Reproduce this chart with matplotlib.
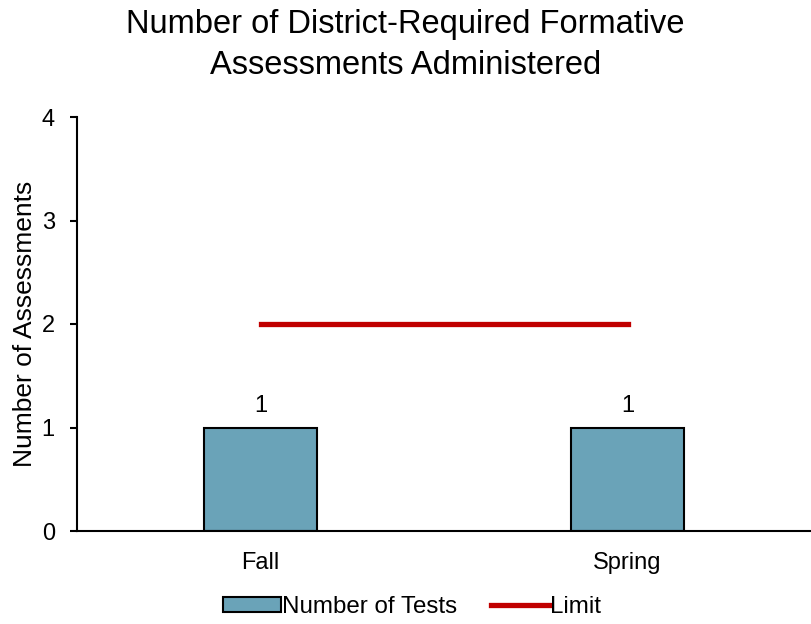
import matplotlib.pyplot as plt

plt.rcParams['font.family'] = ['Liberation Sans', 'DejaVu Sans']

seasons = ['Fall', 'Spring']
num_tests = [1, 1]
limit = [2, 2]

fig = plt.figure(figsize=(8.11, 6.24), dpi=100)
ax = fig.add_axes([77 / 811, 1 - 531 / 624, 734 / 811, 414 / 624])

x = range(len(seasons))
bars = ax.bar(x, num_tests, width=0.31, color='#6aa3b8', edgecolor='black',
              linewidth=1.5, label='Number of Tests', zorder=2)
line, = ax.plot(x, limit, color='#c00000', linewidth=3.8, label='Limit', zorder=3)

for xi, v in zip(x, num_tests):
    ax.text(xi, v + 0.1, str(v), ha='center', va='bottom', fontsize=17)

ax.set_xlim(-0.5, 1.5)
ax.set_ylim(0, 4)
ax.set_yticks([0, 1, 2, 3, 4])
ax.set_xticks(list(x))
ax.set_xticklabels(seasons)
ax.tick_params(axis='x', length=0, labelsize=17, pad=15)
ax.tick_params(axis='y', length=5, width=1.5, labelsize=17, pad=11)
ax.spines['top'].set_visible(False)
ax.spines['right'].set_visible(False)
ax.spines['left'].set_linewidth(1.5)
ax.spines['bottom'].set_linewidth(1.5)
ax.set_ylabel('Number of Assessments', fontsize=19, labelpad=3)

fig.suptitle('Number of District-Required Formative\nAssessments Administered',
             fontsize=23.5, y=0.986, linespacing=1.42)

leg = fig.legend([bars, line], ['Number of Tests', 'Limit'], loc='center',
                 ncol=2, frameon=False, fontsize=17.4, handlelength=2.4,
                 handleheight=0.6, handletextpad=0.05, columnspacing=1.4)
leg.set_bbox_to_anchor((412 / 811, 1 - 607 / 624), transform=fig.transFigure)

fig.savefig('out.png', dpi=100)
